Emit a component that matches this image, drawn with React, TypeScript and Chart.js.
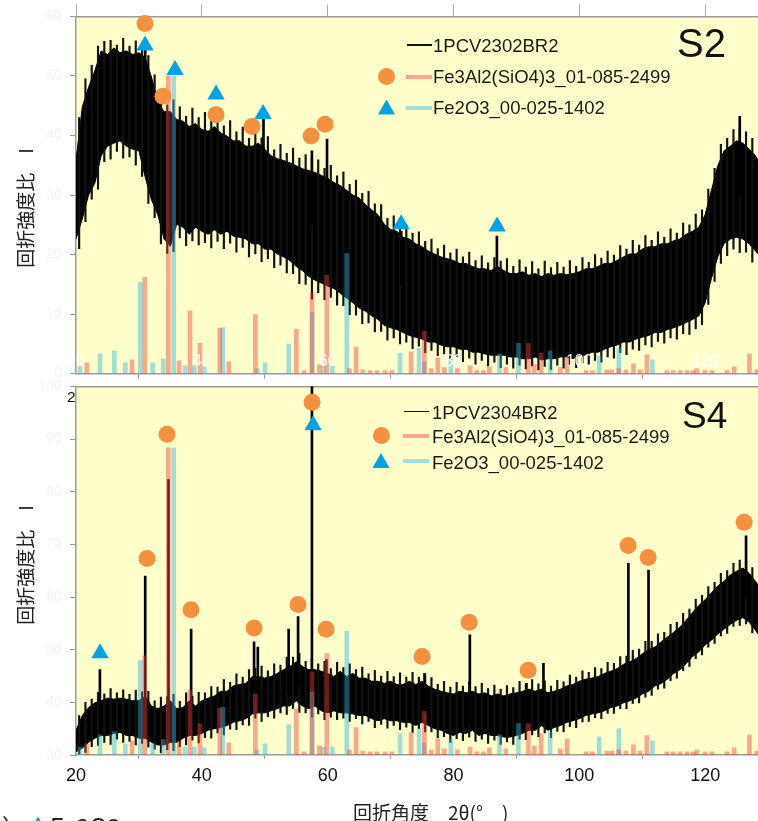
import React, { useEffect, useRef } from "react";
import { Chart, registerables } from "chart.js";

Chart.register(...registerables);

// ---------- shared axis data ----------
const X_MIN = 20;
const X_MAX = 128.4;
const X_TICKS = [20, 40, 60, 80, 100, 120];

// sampling positions of the measured pattern envelopes (2θ, degrees)
const SIGNAL_X = [
  20, 21, 22, 23, 24, 25, 26, 27, 28, 29, 30, 31, 32, 33, 34, 35, 36, 37, 38, 39,
  40, 41, 42, 43, 44, 45, 46, 47, 48, 49, 50, 51, 52, 53, 54, 55, 56, 57, 58, 59,
  60, 61, 62, 63, 64, 65, 66, 67, 68, 69, 70, 71, 72, 73, 74, 75, 76, 77, 78, 79,
  80, 81, 82, 83, 84, 85, 86, 87, 88, 89, 90, 91, 92, 93, 94, 95, 96, 97, 98, 99,
  100, 101, 102, 103, 104, 105, 106, 107, 108, 109, 110, 111, 112, 113, 114, 115, 116, 117, 118, 119,
  120, 121, 122, 123, 124, 125, 126, 127, 128, 128.4,
];
// positions of the noise spikes read between envelope samples
const SPIKE_X = [
  20.5, 21.5, 22.5, 23.5, 24.5, 25.5, 26.5, 27.5, 28.5, 29.5, 30.5, 31.5, 32.5, 33.5, 34.5, 35.5, 36.5, 37.5, 38.5, 39.5,
  40.5, 41.5, 42.5, 43.5, 44.5, 45.5, 46.5, 47.5, 48.5, 49.5, 50.5, 51.5, 52.5, 53.5, 54.5, 55.5, 56.5, 57.5, 58.5, 59.5,
  60.5, 61.5, 62.5, 63.5, 64.5, 65.5, 66.5, 67.5, 68.5, 69.5, 70.5, 71.5, 72.5, 73.5, 74.5, 75.5, 76.5, 77.5, 78.5, 79.5,
  80.5, 81.5, 82.5, 83.5, 84.5, 85.5, 86.5, 87.5, 88.5, 89.5, 90.5, 91.5, 92.5, 93.5, 94.5, 95.5, 96.5, 97.5, 98.5, 99.5,
  100.5, 101.5, 102.5, 103.5, 104.5, 105.5, 106.5, 107.5, 108.5, 109.5, 110.5, 111.5, 112.5, 113.5, 114.5, 115.5, 116.5, 117.5, 118.5, 119.5,
  120.5, 121.5, 122.5, 123.5, 124.5, 125.5, 126.5, 127.5,
];

// ---------- S2 (1PCV2302BR2) ----------
const S2_HI = [
  35.8, 44.8, 48.1, 50.9, 54.2, 53.6, 54.7, 53.9, 54.2, 53.6, 53.9, 53.1, 49.8, 45.7, 44.0, 44.0, 42.7, 42.4, 41.5, 42.0,
  41.0, 40.7, 41.5, 40.4, 39.9, 39.1, 39.1, 38.2, 38.2, 38.7, 37.7, 36.6, 36.1, 35.8, 35.4, 34.9, 34.4, 34.1, 33.8, 33.3,
  32.8, 32.1, 31.6, 30.8, 30.0, 29.5, 28.4, 27.5, 26.7, 25.1, 24.2, 23.9, 22.9, 22.6, 21.8, 21.3, 20.6, 20.1, 19.6, 19.3,
  19.0, 18.5, 18.5, 18.0, 17.6, 17.6, 17.3, 18.0, 17.3, 16.8, 16.8, 17.1, 16.5, 16.8, 16.3, 16.8, 16.5, 16.8, 16.6, 16.8,
  17.1, 17.6, 17.6, 18.0, 18.5, 18.5, 19.0, 19.6, 20.1, 20.1, 20.9, 21.3, 21.3, 21.8, 21.8, 22.3, 22.6, 23.4, 23.9, 24.6,
  26.7, 30.8, 34.9, 37.4, 38.2, 39.1, 38.7, 37.7, 36.6, 35.8,
];
const S2_LO = [
  22.6, 26.0, 30.0, 32.0, 36.6, 38.2, 38.7, 39.1, 38.2, 37.7, 37.4, 33.0, 29.2, 26.7, 22.6, 21.4, 25.1, 24.6, 23.4, 24.6,
  23.9, 23.4, 24.2, 23.4, 23.9, 23.1, 22.9, 22.6, 21.8, 21.8, 20.9, 20.9, 20.1, 19.6, 19.0, 18.0, 17.3, 16.3, 15.7, 15.2,
  14.7, 14.3, 13.5, 12.7, 11.9, 11.0, 10.5, 9.7, 9.1, 8.1, 7.7, 7.4, 6.9, 6.4, 6.1, 5.8, 5.3, 5.3, 4.8, 4.5,
  4.5, 4.1, 4.1, 3.6, 3.6, 3.3, 3.1, 3.1, 3.1, 2.8, 2.8, 2.5, 2.5, 2.8, 2.3, 2.5, 2.5, 2.8, 2.8, 2.5,
  3.1, 3.1, 3.6, 3.6, 4.1, 4.5, 4.8, 5.3, 5.3, 5.8, 6.1, 6.4, 6.9, 6.9, 7.4, 7.7, 8.1, 8.6, 9.1, 9.7,
  11.9, 16.0, 19.6, 21.8, 22.6, 22.9, 22.6, 21.8, 20.6, 20.1,
];
const S2_SPIKE_HI = [
  43.0, 49.5, 51.8, 55.0, 55.8, 56.0, 55.2, 56.3, 55.0, 55.9, 54.6, 53.4, 50.2, 47.5, 45.1, 46.0, 44.8, 43.2, 44.6, 43.0,
  43.9, 42.4, 43.3, 41.6, 42.5, 40.6, 41.4, 39.5, 41.0, 39.6, 39.8, 37.6, 38.5, 37.0, 37.9, 36.2, 36.8, 36.3, 35.9, 34.5,
  35.0, 33.2, 33.9, 31.8, 32.5, 30.3, 30.6, 28.5, 28.4, 26.1, 26.5, 24.6, 25.0, 23.6, 23.8, 22.2, 22.6, 21.0, 21.6, 20.3,
  20.9, 19.6, 20.4, 19.0, 19.8, 18.6, 19.5, 18.9, 19.3, 18.0, 19.1, 17.9, 18.8, 17.6, 18.9, 17.8, 18.7, 17.9, 19.0, 18.0,
  19.5, 18.7, 20.0, 19.4, 20.6, 19.9, 21.5, 20.9, 22.4, 21.6, 23.2, 22.4, 23.8, 22.9, 24.3, 23.6, 25.3, 25.0, 26.8, 27.5,
  31.0, 34.5, 38.5, 39.5, 41.0, 41.0, 40.6, 39.5,
];
const S2_SPIKE_LO = [
  21.0, 25.5, 29.3, 31.0, 35.6, 36.0, 37.3, 36.2, 36.4, 35.0, 33.1, 28.6, 26.2, 21.8, 20.2, 20.5, 22.8, 21.5, 22.3, 21.6,
  22.0, 21.1, 22.2, 21.0, 21.9, 20.4, 21.2, 19.6, 20.1, 18.8, 19.3, 17.8, 18.2, 16.9, 16.8, 15.1, 15.0, 12.5, 13.6, 12.4,
  12.8, 11.5, 11.4, 9.9, 9.8, 8.4, 8.5, 7.0, 7.1, 5.6, 6.0, 5.0, 5.3, 4.2, 4.6, 3.5, 3.9, 3.0, 3.3, 2.4,
  2.9, 2.0, 2.6, 1.6, 2.2, 1.3, 1.9, 1.0, 1.6, 0.9, 1.4, 0.8, 1.3, 0.6, 1.2, 0.7, 1.4, 0.9, 1.5, 1.0,
  1.8, 1.5, 2.2, 1.9, 2.8, 2.6, 3.5, 3.2, 4.1, 3.9, 4.8, 4.5, 5.4, 5.1, 6.0, 5.8, 6.7, 6.6, 7.5, 8.2,
  11.6, 15.5, 18.5, 19.8, 20.9, 20.3, 20.4, 18.7,
];
const S2_PEAK_X = [31.0, 49.8, 57.5, 59.9, 71.7, 86.9, 125.5];
const S2_PEAK_TOP = [54.4, 42.9, 37.4, 39.4, 23.9, 23.1, 43.2];
const S2_PEAK_BASE = [40, 30, 25, 25, 15, 12, 30];
const S2_CIRCLE_X = [30.97, 33.83, 42.26, 47.98, 57.36, 59.59];
const S2_CIRCLE_Y = [58.8, 46.6, 43.5, 41.5, 39.9, 41.9];
const S2_TRI_X = [30.97, 35.74, 42.26, 49.73, 71.67, 86.93];
const S2_TRI_Y = [55.1, 51.0, 46.9, 43.6, 25.1, 24.7];

// ---------- S4 (1PCV2304BR2) ----------
const S4_HI = [
  34.7, 37.5, 39.0, 39.9, 40.3, 40.8, 40.6, 40.8, 40.6, 40.3, 40.3, 41.2, 39.3, 38.8, 39.3, 40.3, 38.8, 39.0, 40.3, 39.3,
  40.3, 40.8, 41.2, 42.1, 42.1, 43.1, 43.4, 43.6, 44.9, 44.9, 44.6, 44.9, 45.5, 46.2, 46.8, 47.7, 46.8, 46.2, 46.2, 45.9,
  45.5, 44.9, 45.9, 44.9, 45.5, 44.6, 44.6, 44.0, 44.0, 43.6, 44.0, 43.4, 43.4, 44.0, 43.4, 44.0, 43.1, 42.5, 42.1, 41.8,
  41.6, 42.1, 41.8, 42.1, 41.6, 41.8, 41.2, 41.6, 41.2, 41.6, 41.8, 42.1, 42.5, 42.1, 42.5, 41.8, 42.1, 42.5, 43.1, 43.4,
  44.0, 44.4, 44.6, 44.9, 45.5, 45.9, 46.4, 47.2, 47.7, 48.3, 49.2, 50.0, 50.5, 51.5, 52.4, 53.3, 54.3, 55.6, 57.1, 58.4,
  59.5, 60.8, 62.1, 63.0, 64.2, 64.9, 65.5, 64.5, 63.0, 62.3,
];
const S4_LO = [
  30.6, 31.3, 32.4, 33.2, 33.7, 33.7, 34.1, 34.3, 33.7, 33.7, 33.2, 33.2, 32.4, 31.9, 31.9, 32.4, 32.4, 33.2, 33.7, 33.7,
  34.1, 34.7, 35.0, 35.2, 35.6, 36.2, 36.5, 36.9, 37.8, 38.0, 38.0, 38.4, 38.8, 39.3, 39.3, 40.3, 39.3, 38.8, 39.3, 38.4,
  38.0, 38.4, 38.0, 38.0, 37.8, 37.5, 37.5, 36.9, 36.5, 36.9, 36.5, 36.5, 36.2, 36.2, 35.6, 36.2, 35.6, 35.0, 34.7, 34.1,
  33.7, 34.3, 34.1, 34.7, 33.7, 34.1, 33.7, 33.7, 33.4, 33.4, 33.7, 34.1, 34.7, 34.7, 35.6, 34.7, 35.2, 35.6, 36.2, 36.5,
  36.9, 37.5, 37.8, 38.0, 38.4, 39.0, 39.3, 39.9, 40.3, 40.8, 41.6, 42.1, 43.1, 43.6, 44.4, 45.5, 46.2, 47.4, 48.7, 49.6,
  50.9, 51.8, 53.0, 53.9, 54.8, 55.6, 56.1, 55.2, 53.7, 53.0,
];
const S4_SPIKE_HI = [
  37.5, 40.0, 40.6, 41.9, 41.6, 42.6, 41.8, 42.4, 41.5, 42.3, 42.0, 42.1, 40.3, 41.0, 41.1, 41.5, 40.2, 41.8, 41.2, 41.9,
  41.8, 43.0, 42.9, 44.3, 43.8, 45.4, 44.8, 46.2, 46.5, 46.9, 46.0, 47.3, 47.1, 48.6, 48.6, 49.3, 47.8, 48.5, 47.3, 47.8,
  46.4, 47.6, 46.6, 47.3, 46.2, 46.7, 45.4, 46.1, 45.0, 45.9, 44.9, 45.6, 44.8, 45.7, 44.8, 45.2, 44.7, 43.4, 44.0, 42.9,
  43.8, 43.1, 43.9, 43.0, 43.6, 42.6, 43.3, 42.5, 43.2, 42.8, 44.0, 43.4, 44.3, 43.5, 44.1, 43.1, 44.2, 43.9, 45.2, 44.8,
  46.0, 45.7, 46.6, 46.4, 47.6, 47.4, 48.7, 48.8, 49.9, 50.1, 51.6, 51.6, 53.0, 53.3, 54.8, 55.2, 56.9, 57.7, 59.6, 60.3,
  62.0, 62.8, 64.5, 65.0, 66.4, 67.0, 66.8, 65.6,
];
const S4_SPIKE_LO = [
  30.2, 30.5, 31.6, 31.8, 32.4, 32.0, 33.0, 32.4, 32.6, 31.9, 32.2, 31.5, 31.1, 30.4, 31.0, 30.8, 31.6, 31.9, 32.8, 32.3,
  33.3, 33.2, 34.2, 33.8, 34.9, 34.8, 35.7, 35.6, 37.0, 36.4, 37.3, 37.0, 38.0, 37.7, 38.8, 38.1, 38.0, 37.2, 37.8, 36.7,
  37.2, 36.7, 37.0, 36.4, 36.9, 35.9, 36.4, 35.2, 35.8, 35.1, 35.6, 34.8, 35.3, 34.3, 35.0, 34.4, 34.4, 33.3, 33.5, 32.4,
  33.1, 32.7, 33.4, 32.6, 33.0, 32.2, 32.8, 32.0, 32.5, 32.0, 33.0, 32.9, 33.8, 33.5, 34.2, 33.3, 34.5, 34.4, 35.4, 35.2,
  36.3, 36.4, 37.1, 36.9, 37.9, 37.9, 38.8, 38.8, 39.8, 39.9, 41.0, 41.3, 42.5, 42.7, 44.1, 44.6, 46.0, 46.8, 48.3, 49.0,
  50.5, 51.2, 52.6, 53.1, 54.4, 54.6, 54.9, 53.2,
];
const S4_PEAK_X = [23.8, 31.0, 34.7, 38.3, 48.3, 48.9, 53.8, 55.3, 57.5, 59.8, 75.4, 82.6, 91.6, 94.3, 107.8, 111.0, 126.5];
const S4_PEAK_TOP = [46.2, 64.0, 82.3, 53.9, 51.5, 50.5, 53.9, 56.3, 100.5, 48.1, 45.5, 52.8, 43.6, 47.4, 66.4, 65.1, 71.6];
const S4_PEAK_BASE = [36, 34, 33, 35, 40, 40, 42, 43, 40, 40, 38, 36, 36, 36, 42, 44, 60];
const S4_CIRCLE_X = [31.29, 34.47, 38.28, 48.3, 55.29, 57.52, 59.75, 75.01, 82.48, 91.86, 107.76, 110.94, 126.2];
const S4_CIRCLE_Y = [67.3, 90.9, 57.6, 54.1, 58.6, 97.0, 53.9, 48.7, 55.2, 46.1, 69.8, 67.5, 74.2];
const S4_TRI_X = [23.82, 57.68];
const S4_TRI_Y = [49.3, 92.6];

// ---------- reference patterns (relative intensity, %) ----------
const ALM_X = [
  21.7, 28.9, 30.92, 34.67, 36.38, 38.12, 39.71, 42.85, 44.28, 48.51, 55.02, 56.25, 57.52, 58.68, 59.86, 63.45, 64.52,
  65.58, 66.74, 67.81, 69.13, 70.19, 73.26, 75.37, 76.44, 77.5, 78.55, 80.62, 82.64, 83.71, 84.75, 85.71, 88.31, 91.91,
  92.86, 93.93, 96.99, 98.06, 101.08, 102.08, 104.37, 105.17, 106.28, 107.39, 108.6, 109.67, 110.73, 113.91, 114.91,
  116.03, 117.14, 118.1, 118.68, 120.0, 121.07, 123.45, 124.61, 127.04, 128.22,
];
const ALM_I = [
  3.6, 4.6, 32.3, 100, 4.3, 21.1, 10.2, 15.2, 4.0, 19.8, 14.9, 1.0, 27.1, 3.0, 33.0, 1.7, 8.9,
  1.3, 1.0, 1.0, 1.0, 1.0, 7.3, 14.2, 1.7, 5.3, 2.0, 1.7, 2.6, 1.0, 1.0, 2.3, 2.0, 10.2,
  3.0, 6.9, 2.0, 5.3, 1.0, 1.0, 1.3, 1.3, 1.7, 1.3, 3.3, 1.3, 6.3, 1.0, 1.0,
  1.0, 1.0, 1.0, 1.7, 1.0, 1.0, 1.0, 2.3, 6.6, 1.3,
];
const HEM_X = [
  20.64, 23.82, 26.09, 27.84, 30.22, 32.19, 33.88, 35.53, 37.33, 38.81, 40.4, 43.32, 48.82, 50.05, 53.82, 57.52,
  59.32, 60.75, 63.04, 71.51, 74.53, 75.37, 79.57, 87.3, 90.32, 95.36, 103.15, 106.28, 111.62,
];
const HEM_I = [
  2.6, 6.6, 7.6, 3.6, 30.7, 3.6, 5.0, 100, 2.6, 2.6, 2.3, 15.5, 1.7, 3.6, 9.9, 20.5,
  2.6, 2.6, 40.3, 6.9, 8.6, 4.0, 5.0, 6.6, 10.2, 7.6, 5.9, 8.6, 4.6,
];

const SANS = "'Liberation Sans', Arial, sans-serif";
const JP = "'Noto Sans CJK JP', sans-serif";
const PLOT_BG = "#ffffcc";
const ORANGE = "#f49140";
const BLUE = "#00a3e0";

type Panel = {
  hi: number[]; lo: number[]; spikeHi: number[]; spikeLo: number[];
  peakX: number[]; peakTop: number[]; peakBase: number[];
  circX: number[]; circY: number[]; triX: number[]; triY: number[];
  yMin: number; yMax: number; isTop: boolean;
};

const xy = (xs: number[], ys: number[]) => xs.map((x, i) => ({ x, y: ys[i] }));
const span = (xs: number[], lo: number[], hi: number[]) => xs.map((x, i) => ({ x, y: [lo[i], hi[i]] }));

function setTicks(scale: any) {
  scale.ticks = X_TICKS.map((v) => ({ value: v }));
}

function makeConfig(p: Panel): any {
  const datasets: any[] = [
    { type: "line", data: xy(SIGNAL_X, p.hi), borderColor: "#000", borderWidth: 1, backgroundColor: "#000",
      fill: "+1", pointRadius: 0, tension: 0, order: 10, xAxisID: "x", yAxisID: "y" },
    { type: "line", data: xy(SIGNAL_X, p.lo), borderColor: "#000", borderWidth: 1, backgroundColor: "#000",
      fill: false, pointRadius: 0, tension: 0, order: 10, xAxisID: "x", yAxisID: "y" },
    { type: "bar", data: span(SPIKE_X, p.spikeLo, p.spikeHi), backgroundColor: "#111",
      barThickness: 1.5, grouped: false, order: 9, xAxisID: "x", yAxisID: "y" },
    { type: "bar", data: span(p.peakX, p.peakBase, p.peakTop), backgroundColor: "#000",
      barThickness: 2, grouped: false, order: 8, xAxisID: "x", yAxisID: "y" },
    { type: "bar", data: xy(ALM_X, ALM_I), backgroundColor: "rgba(240,62,62,0.45)", barThickness: 4,
      grouped: false, order: 5, xAxisID: "x", yAxisID: "yRef" },
    { type: "bar", data: xy(HEM_X, HEM_I), backgroundColor: "rgba(44,182,222,0.45)", barThickness: 4,
      grouped: false, order: 5, xAxisID: "x", yAxisID: "yRef" },
    { type: "line", data: xy(p.circX, p.circY), showLine: false, pointStyle: "circle", pointRadius: 8.5,
      pointBackgroundColor: ORANGE, pointBorderColor: ORANGE, pointBorderWidth: 0, clip: false, order: 1,
      xAxisID: "x", yAxisID: "y" },
    { type: "line", data: xy(p.triX, p.triY), showLine: false, pointStyle: "triangle", pointRadius: 10,
      pointBackgroundColor: BLUE, pointBorderColor: BLUE, pointBorderWidth: 0, clip: false, order: 1,
      xAxisID: "x", yAxisID: "y" },
  ];

  const bgPlugin = {
    id: "plotBg",
    beforeDraw(chart: any) {
      const { ctx, chartArea } = chart;
      ctx.save();
      ctx.fillStyle = PLOT_BG;
      ctx.fillRect(chartArea.left, chartArea.top, chartArea.right - chartArea.left, chartArea.bottom - chartArea.top);
      ctx.restore();
    },
  };
  const innerLabels = {
    id: "innerLabels",
    afterDatasetsDraw(chart: any) {
      if (!p.isTop) return;
      const { ctx, chartArea } = chart;
      const sx = chart.scales.x;
      ctx.save();
      ctx.fillStyle = "rgba(255,255,255,0.95)";
      ctx.font = `16px ${SANS}`;
      ctx.textAlign = "center";
      ctx.textBaseline = "middle";
      X_TICKS.forEach((v) => ctx.fillText(String(v), sx.getPixelForValue(v), chartArea.bottom - 12));
      ctx.restore();
    },
  };

  return {
    type: "line",
    data: { datasets },
    plugins: [bgPlugin, innerLabels],
    options: {
      responsive: false,
      animation: false,
      devicePixelRatio: 1,
      events: [],
      layout: { padding: 0, autoPadding: false },
      plugins: { legend: { display: false }, tooltip: { enabled: false } },
      scales: {
        x: {
          type: "linear", position: "bottom", min: X_MIN, max: X_MAX, offset: false,
          afterBuildTicks: setTicks,
          ticks: p.isTop
            ? { display: false }
            : { display: true, color: "#111", font: { size: 18, family: "'Liberation Sans Narrow', 'Liberation Sans', sans-serif" },
                padding: 6, maxRotation: 0, autoSkip: false },
          grid: { drawOnChartArea: false, drawTicks: true, tickLength: p.isTop ? 5 : 4, color: "#999" },
          border: { display: true, color: "#9a9a9a", width: 1.5 },
          afterFit: (s: any) => { s.height = p.isTop ? 13 : 66; },
        },
        xTop: {
          type: "linear", position: "top", min: X_MIN, max: X_MAX, offset: false,
          afterBuildTicks: setTicks,
          ticks: { display: false },
          grid: { drawOnChartArea: false, drawTicks: p.isTop, tickLength: 12, color: "#aaa" },
          border: { display: true, color: "#9a9a9a", width: 1.5 },
          afterFit: (s: any) => { s.height = p.isTop ? 13 : 10; },
        },
        y: {
          type: "linear", position: "left", min: p.yMin, max: p.yMax,
          ticks: { stepSize: 10, color: "#f3f3f3", font: { size: 14, family: SANS }, padding: 8 },
          grid: { drawOnChartArea: false, drawTicks: true, tickLength: 6, color: "#999" },
          border: { display: true, color: "#9a9a9a", width: 1.5 },
          afterFit: (s: any) => { s.width = 76; },
        },
        yRef: { type: "linear", display: false, min: 0, max: 120 },
      },
    },
  };
}

const abs = (s: React.CSSProperties): React.CSSProperties => ({ position: "absolute", ...s });

function LegendBlock(props: { top: number[]; textLeft: number; lineLeft: number; lineY: number[]; mark: number[]; name: string }) {
  const { top, textLeft, lineLeft, lineY, mark, name } = props;
  const txt: React.CSSProperties = { fontFamily: SANS, fontSize: 18.5, lineHeight: "1", color: "#1a1a1a", whiteSpace: "nowrap" };
  return (
    <>
      <div style={abs({ left: lineLeft + 1, top: lineY[0] - 0.75, width: 25, height: 1.5, background: "#111" })} />
      <div style={abs({ left: mark[0] - 8.5, top: lineY[1] - 8.5, width: 17, height: 17, borderRadius: "50%", background: ORANGE })} />
      <div style={abs({ left: lineLeft, top: lineY[1] - 2, width: 26, height: 4, background: "#f7a890" })} />
      <div style={abs({ left: mark[0] - 8.5, top: lineY[2] - 8, width: 17, height: 15, background: BLUE,
        clipPath: "polygon(50% 0, 100% 100%, 0 100%)" })} />
      <div style={abs({ left: lineLeft, top: lineY[2] - 2, width: 26, height: 4, background: "#a5dfd6" })} />
      <div style={abs({ left: textLeft, top: top[0], ...txt })}>{name}</div>
      <div style={abs({ left: textLeft, top: top[1], ...txt })}>Fe3Al2(SiO4)3_01-085-2499</div>
      <div style={abs({ left: textLeft, top: top[2], ...txt })}>Fe2O3_00-025-1402</div>
    </>
  );
}

export default function App() {
  const topRef = useRef<HTMLCanvasElement>(null);
  const botRef = useRef<HTMLCanvasElement>(null);

  useEffect(() => {
    const c1 = new Chart(topRef.current as HTMLCanvasElement, makeConfig({
      hi: S2_HI, lo: S2_LO, spikeHi: S2_SPIKE_HI, spikeLo: S2_SPIKE_LO,
      peakX: S2_PEAK_X, peakTop: S2_PEAK_TOP, peakBase: S2_PEAK_BASE,
      circX: S2_CIRCLE_X, circY: S2_CIRCLE_Y, triX: S2_TRI_X, triY: S2_TRI_Y, yMin: 0, yMax: 60, isTop: true,
    }));
    const c2 = new Chart(botRef.current as HTMLCanvasElement, makeConfig({
      hi: S4_HI, lo: S4_LO, spikeHi: S4_SPIKE_HI, spikeLo: S4_SPIKE_LO,
      peakX: S4_PEAK_X, peakTop: S4_PEAK_TOP, peakBase: S4_PEAK_BASE,
      circX: S4_CIRCLE_X, circY: S4_CIRCLE_Y, triX: S4_TRI_X, triY: S4_TRI_Y, yMin: 30, yMax: 100, isTop: false,
    }));
    return () => { c1.destroy(); c2.destroy(); };
  }, []);

  const yTitle: React.CSSProperties = {
    fontFamily: JP, fontSize: 19, lineHeight: "1", color: "#222", whiteSpace: "nowrap",
    transform: "translate(-50%, -50%) rotate(-90deg)",
  };

  return (
    <div style={{ position: "fixed", left: 0, top: 0, width: 758, height: 821, overflow: "hidden", background: "#fff" }}>
      <canvas ref={botRef} width={758} height={451} style={abs({ left: 0, top: 370 })} />
      <canvas ref={topRef} width={758} height={390} style={abs({ left: 0, top: 0 })} />

      <LegendBlock top={[36.6, 67.6, 99.3]} textLeft={433} lineLeft={406} lineY={[45, 76.5, 107.5]} mark={[386.5]} name="1PCV2302BR2" />
      <LegendBlock top={[403.6, 428.3, 454.3]} textLeft={432} lineLeft={403} lineY={[411.5, 435.5, 461]} mark={[381]} name="1PCV2304BR2" />

      <div style={abs({ left: 677, top: 23, fontFamily: SANS, fontSize: 40, lineHeight: "1", color: "#111" })}>S2</div>
      <div style={abs({ left: 682, top: 397, fontFamily: SANS, fontSize: 37, lineHeight: "1", color: "#111" })}>S4</div>
      <div style={abs({ left: 67, top: 389, fontFamily: SANS, fontSize: 15.5, lineHeight: "1", color: "#111" })}>2</div>

      <div style={abs({ left: 24, top: 208, ...yTitle })}>回折強度比　I</div>
      <div style={abs({ left: 24, top: 565, ...yTitle })}>回折強度比　I</div>

      <div style={abs({ left: 353, top: 802, fontFamily: JP, fontSize: 19, lineHeight: "1", color: "#222", whiteSpace: "nowrap" })}>
        回折角度　2θ(°　)
      </div>
      <div style={abs({ left: 2, top: 814, fontFamily: JP, fontSize: 24, lineHeight: "1", color: "#222", whiteSpace: "nowrap" })}>
        ）<span style={{ color: BLUE }}>▲</span>Fe2O3
      </div>
    </div>
  );
}
